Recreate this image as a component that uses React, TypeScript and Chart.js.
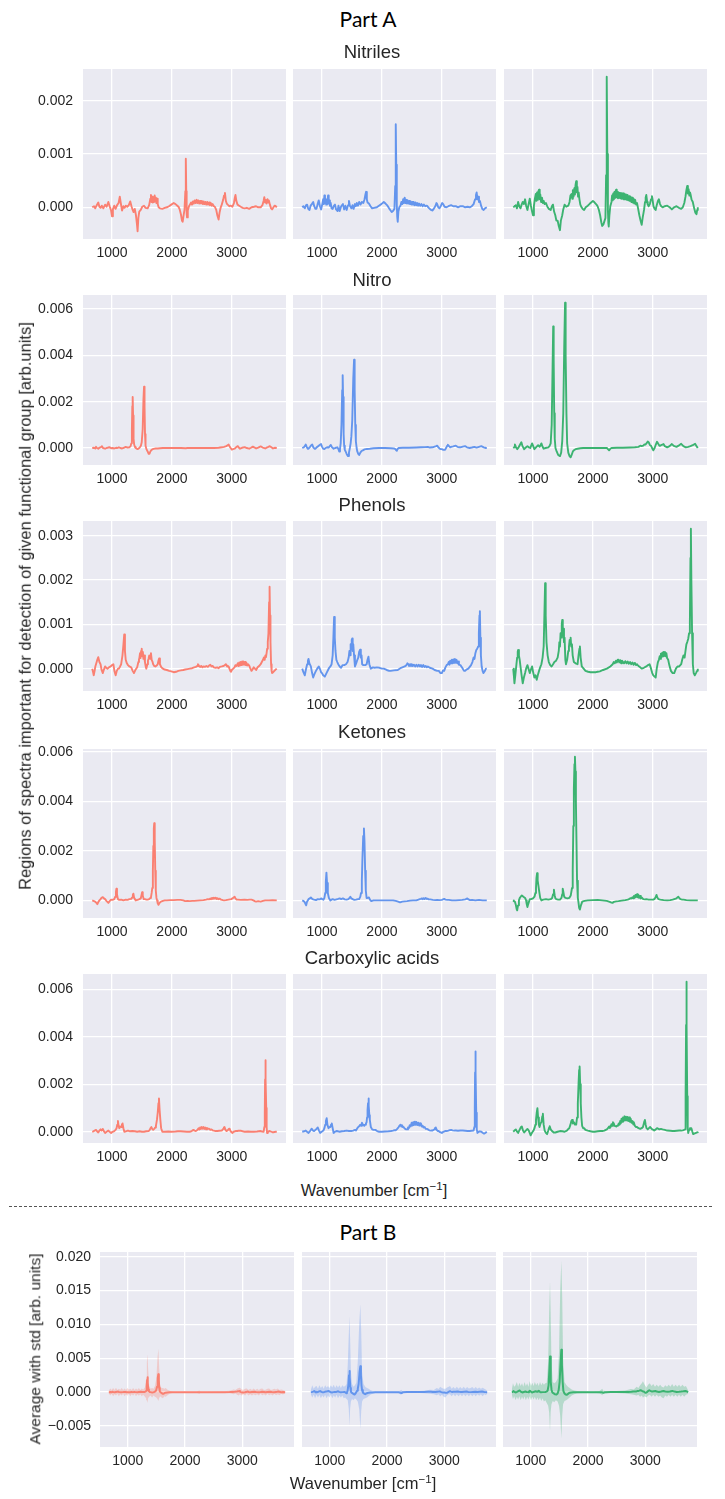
import { useEffect, useRef } from "react";
import { Chart, registerables } from "chart.js";

Chart.register(...registerables);

type Point = [number, number];
type BandPoint = [number, number, number];

// Intensities below are written in units of 1e-4 arb. units.
const UNIT = 1e-4;

const wavenumberTicks = [1000, 2000, 3000];
const nitrilesTicks = [0, 0.001, 0.002];
const nitroTicks = [0, 0.002, 0.004, 0.006];
const phenolsTicks = [0, 0.001, 0.002, 0.003];
const ketonesTicks = [0, 0.002, 0.004, 0.006];
const carboxylicTicks = [0, 0.002, 0.004, 0.006];
const averageTicks = [-0.005, 0, 0.005, 0.01, 0.015, 0.02];

const groupTitles = ["Nitriles", "Nitro", "Phenols", "Ketones", "Carboxylic acids"];

// ---------- Nitriles ----------
const nitrilesSalmon: Point[] = [[670,0],[700,0.2],[720,-0.2],[745,0.4],[771,0.9],[790,0.1],[810,-0.1],[830,0.3],[855,-0.2],[885,0.5],[910,0.1],[939,1.0],[960,0.2],[985,-0.6],[1000,-1.7],[1015,-0.4],[1038,0.3],[1060,-0.3],[1085,0.4],[1110,0.8],[1130,2.0],[1145,0.9],[1168,-0.6],[1190,0.2],[1210,-0.1],[1230,0.3],[1255,0.1],[1280,0.4],[1305,1.1],[1325,0.2],[1345,-0.5],[1360,-0.9],[1380,-0.3],[1400,-1.5],[1415,-3.0],[1427,-4.5],[1440,-2.0],[1455,-0.8],[1480,-0.5],[1505,0.1],[1534,0.3],[1560,-0.1],[1595,-0.2],[1620,0.4],[1640,1.6],[1650,2.3],[1660,1.0],[1670,2.0],[1680,0.9],[1690,1.9],[1700,1.0],[1712,2.2],[1722,1.1],[1732,1.8],[1742,0.8],[1752,1.6],[1763,0.6],[1778,0.0],[1800,-0.2],[1840,-0.3],[1880,-0.1],[1916,0.0],[1950,0.2],[1990,0.5],[2030,0.8],[2060,0.6],[2090,0.3],[2110,0.1],[2130,-0.4],[2150,-1.3],[2168,-2.5],[2180,-2.7],[2195,-1.5],[2210,-0.5],[2224,3.0],[2232,9.1],[2239,3.0],[2246,-1.2],[2252,-1.9],[2265,-0.6],[2285,0.2],[2300,0.5],[2320,0.9],[2335,0.5],[2350,1.1],[2365,0.7],[2380,1.3],[2395,0.8],[2412,1.4],[2425,0.8],[2440,1.3],[2455,0.7],[2470,1.2],[2485,0.7],[2500,1.2],[2515,0.6],[2530,1.1],[2545,0.6],[2560,1.0],[2575,0.5],[2590,1.0],[2605,0.5],[2620,0.9],[2635,0.4],[2650,0.8],[2665,0.3],[2680,0.6],[2700,0.2],[2717,0.1],[2740,-0.5],[2760,-1.6],[2779,-2.3],[2795,-1.0],[2815,0.0],[2832,0.5],[2855,1.4],[2870,2.2],[2885,2.7],[2900,1.2],[2915,0.7],[2931,0.5],[2960,0.2],[2985,0.3],[3010,0.1],[3035,0.8],[3050,1.8],[3061,2.3],[3075,1.2],[3095,0.5],[3122,0.3],[3150,0.1],[3180,-0.1],[3214,-0.2],[3250,-0.1],[3290,-0.3],[3330,0.0],[3370,0.1],[3405,0.2],[3440,0.0],[3481,0.0],[3510,0.4],[3530,1.2],[3542,1.9],[3555,0.9],[3568,1.4],[3580,0.7],[3595,1.5],[3608,0.9],[3618,1.3],[3635,0.5],[3655,-0.2],[3672,-0.4],[3695,0.0],[3715,0.3],[3733,0.2],[3750,0.0]];
const nitrilesBlue: Point[] = [[670,0],[690,0.2],[713,-0.2],[735,0.4],[752,0.5],[770,-0.3],[791,-0.5],[810,0.3],[830,0.6],[853,1.0],[870,0.2],[890,-0.3],[907,-0.3],[925,0.5],[946,1.3],[965,0.2],[985,-0.4],[1005,0.6],[1020,1.5],[1030,0.6],[1040,2.2],[1050,0.8],[1060,1.6],[1070,0.5],[1080,1.4],[1090,0.6],[1101,2.2],[1112,0.7],[1122,1.3],[1132,0.3],[1145,0.8],[1160,-0.2],[1178,-0.3],[1195,0.2],[1217,0.5],[1235,-0.4],[1260,-0.7],[1275,0.3],[1295,-0.7],[1320,0.2],[1349,0.6],[1370,-0.4],[1390,0.3],[1411,-0.5],[1435,0.4],[1450,1.2],[1465,0.3],[1490,-0.2],[1510,0.4],[1527,-0.3],[1550,0.6],[1565,0.2],[1581,0.8],[1600,0.3],[1620,1.0],[1643,0.5],[1665,1.0],[1690,0.8],[1710,1.5],[1725,2.4],[1736,2.9],[1748,1.5],[1760,0.9],[1783,0.7],[1810,0.2],[1837,-0.2],[1870,-0.1],[1915,0.0],[1950,0.3],[1990,0.6],[2031,1.0],[2060,0.7],[2093,0.3],[2120,-0.2],[2145,-0.6],[2163,-0.9],[2185,-0.7],[2209,-0.3],[2222,4.0],[2229,12.0],[2233,15.6],[2239,8.0],[2248,0.5],[2256,-1.8],[2264,-2.7],[2275,-0.8],[2290,0.0],[2310,0.3],[2325,1.0],[2340,0.6],[2355,1.5],[2368,0.8],[2380,1.8],[2393,0.8],[2405,1.4],[2418,0.7],[2430,1.3],[2443,0.7],[2455,1.2],[2468,0.6],[2480,1.1],[2493,0.5],[2505,1.0],[2518,0.5],[2530,1.0],[2545,0.4],[2560,0.9],[2575,0.4],[2590,0.8],[2605,0.3],[2620,0.7],[2640,0.3],[2660,0.6],[2680,0.2],[2700,0.5],[2725,0.2],[2750,0.3],[2767,0.1],[2790,-0.2],[2820,-0.5],[2845,-0.6],[2870,-0.2],[2895,0.3],[2910,0.8],[2922,0.6],[2940,0.0],[2960,-0.2],[2985,0.3],[3005,0.8],[3023,0.6],[3045,0.1],[3078,0.0],[3110,0.2],[3155,0.4],[3190,0.2],[3233,0.2],[3270,0.0],[3310,0.2],[3349,0.2],[3390,0.0],[3430,0.1],[3465,0.0],[3500,0.2],[3530,0.6],[3555,1.5],[3570,2.3],[3581,2.8],[3595,1.5],[3608,2.0],[3620,1.0],[3636,1.2],[3655,0.3],[3675,-0.3],[3698,-0.5],[3720,-0.2],[3750,0.0]];
const nitrilesGreen: Point[] = [[670,0],[685,0.1],[700,0.3],[713,0.4],[732,-0.2],[752,1.0],[770,0.2],[791,-0.2],[810,0.5],[829,1.0],[848,0.6],[868,1.5],[885,0.3],[907,-0.5],[925,0.5],[946,1.6],[965,0.3],[985,-0.8],[1000,-1.5],[1015,0.2],[1030,1.5],[1047,2.5],[1058,1.2],[1068,2.8],[1080,1.4],[1090,3.0],[1101,3.3],[1112,1.5],[1122,2.4],[1135,1.0],[1150,1.8],[1165,0.8],[1178,1.2],[1195,0.6],[1217,0.8],[1240,0.1],[1265,-0.3],[1295,-0.5],[1315,0.2],[1333,0.5],[1352,-0.8],[1372,-1.5],[1390,-2.5],[1411,-2.5],[1430,-3.5],[1450,-4.3],[1465,-2.5],[1488,-1.5],[1505,-0.4],[1527,0.5],[1555,0.1],[1589,0.3],[1610,1.0],[1625,2.2],[1643,2.5],[1655,1.6],[1665,3.2],[1677,2.0],[1690,3.6],[1700,2.4],[1710,4.2],[1721,4.9],[1732,2.8],[1742,3.8],[1752,2.0],[1762,2.8],[1775,1.5],[1790,0.5],[1810,0.0],[1830,-0.3],[1853,-0.5],[1880,0.0],[1915,0.3],[1950,0.7],[1980,1.0],[2000,1.2],[2020,1.0],[2036,0.8],[2060,0.5],[2078,0.2],[2100,-0.5],[2120,-1.5],[2140,-2.8],[2155,-3.5],[2175,-3.2],[2195,-2.5],[2209,-2.0],[2220,6.0],[2228,18.0],[2233,24.5],[2240,10.0],[2250,-0.5],[2258,-3.0],[2264,-3.6],[2275,-1.5],[2290,0.2],[2310,1.0],[2320,2.2],[2330,1.3],[2340,2.6],[2350,1.5],[2360,2.9],[2370,1.8],[2380,3.1],[2388,3.3],[2398,1.9],[2408,2.9],[2418,1.7],[2428,2.8],[2438,1.8],[2448,2.7],[2458,1.7],[2468,2.7],[2478,1.6],[2488,2.6],[2498,1.6],[2508,2.6],[2518,1.5],[2528,2.5],[2540,1.5],[2552,2.4],[2565,1.4],[2578,2.3],[2590,1.3],[2603,2.1],[2615,1.2],[2628,2.0],[2640,1.0],[2653,1.8],[2665,0.9],[2678,1.6],[2690,0.7],[2705,1.4],[2720,0.5],[2736,0.8],[2755,-0.3],[2775,-1.5],[2795,-2.5],[2814,-3.3],[2830,-2.0],[2853,-0.5],[2870,1.0],[2880,1.8],[2891,2.3],[2905,1.0],[2915,0.5],[2930,0.2],[2950,0.6],[2970,1.5],[2985,2.1],[2995,1.5],[3010,0.2],[3030,-0.3],[3047,-0.5],[3065,0.4],[3085,1.2],[3101,1.5],[3120,0.6],[3140,0.2],[3163,0.0],[3200,0.2],[3240,0.3],[3280,0.0],[3318,-0.4],[3355,0.0],[3395,0.2],[3435,-0.1],[3473,-0.3],[3500,0.0],[3525,0.8],[3545,2.0],[3560,3.2],[3574,4.0],[3585,2.6],[3597,3.4],[3610,2.2],[3620,2.8],[3628,2.5],[3645,1.5],[3667,1.0],[3690,-0.2],[3710,-1.0],[3729,-1.3],[3740,-0.5],[3750,0.0]];

// ---------- Nitro ----------
const nitroSalmon: Point[] = [[670,0],[700,0.1],[720,-0.2],[733,0.5],[750,0.0],[771,-0.3],[795,0.2],[815,0.4],[832,0.8],[850,0.0],[885,-0.3],[910,0.0],[935,0.2],[962,0.3],[985,-0.1],[1010,0.0],[1038,-0.2],[1070,0.1],[1090,0.0],[1115,0.3],[1140,0.0],[1168,-0.2],[1195,0.1],[1229,0.5],[1260,0.2],[1290,0.3],[1310,0.8],[1322,2.0],[1332,8.0],[1339,18.0],[1345,22.0],[1352,14.0],[1360,4.0],[1370,1.5],[1385,0.3],[1397,0.0],[1412,-0.3],[1427,-0.5],[1445,-0.2],[1465,0.3],[1482,1.0],[1496,2.5],[1512,8.0],[1525,21.0],[1535,26.5],[1543,18.0],[1551,6.0],[1560,1.0],[1575,-0.5],[1595,-1.5],[1612,-2.5],[1626,-2.5],[1640,-1.5],[1660,-0.8],[1690,-0.4],[1730,-0.2],[1763,-0.2],[1800,-0.1],[1850,0.0],[1950,0.0],[2050,0.0],[2150,0.0],[2230,-0.1],[2260,0.0],[2400,0.0],[2550,0.0],[2700,0.0],[2780,0.1],[2832,0.3],[2870,0.5],[2908,0.8],[2930,1.2],[2946,1.5],[2960,0.8],[2980,0.0],[3000,-0.7],[3020,-0.5],[3046,-0.3],[3070,0.3],[3099,0.8],[3115,0.2],[3137,-0.3],[3170,0.1],[3214,0.4],[3250,0.0],[3290,-0.3],[3320,0.1],[3351,0.6],[3380,0.2],[3405,-0.2],[3440,0.2],[3481,0.7],[3515,0.2],[3557,-0.2],[3590,0.3],[3610,0.5],[3634,0.8],[3660,0.3],[3687,-0.2],[3715,0.1],[3750,0.0]];
const nitroBlue: Point[] = [[670,0],[695,0.3],[713,0.8],[729,1.5],[745,0.5],[760,-0.3],[775,-0.3],[800,0.5],[820,1.2],[837,1.5],[855,0.3],[875,-0.3],[891,-0.3],[915,0.4],[940,0.8],[960,1.3],[984,1.7],[1000,0.6],[1020,-0.3],[1039,-0.5],[1060,0.0],[1085,0.3],[1110,0.2],[1130,0.8],[1147,1.3],[1165,0.4],[1194,-0.3],[1220,0.0],[1256,0.3],[1275,-0.5],[1287,-1.5],[1300,-0.5],[1312,2.0],[1325,10.0],[1337,25.0],[1345,31.4],[1352,22.0],[1361,6.0],[1370,1.0],[1380,-0.8],[1395,-1.5],[1415,-2.8],[1434,-3.5],[1450,-2.0],[1465,0.0],[1478,2.0],[1490,5.0],[1505,12.0],[1522,30.0],[1535,38.1],[1545,25.0],[1555,10.0],[1565,3.0],[1578,0.0],[1589,-1.5],[1605,-2.5],[1620,-3.0],[1640,-2.0],[1660,-1.3],[1682,-1.0],[1710,-0.6],[1750,-0.4],[1798,-0.3],[1860,-0.1],[1953,0.0],[2050,0.0],[2150,-0.1],[2200,-0.2],[2225,-0.5],[2240,-1.0],[2248,-1.2],[2262,-0.4],[2279,0.0],[2350,0.1],[2450,0.1],[2574,0.2],[2650,0.3],[2720,0.4],[2767,0.5],[2800,0.2],[2845,0.3],[2880,0.6],[2905,0.8],[2922,1.0],[2940,0.4],[2960,-0.2],[2980,-0.5],[3000,-0.5],[3025,-0.8],[3054,-0.8],[3075,0.2],[3090,1.0],[3101,1.4],[3120,0.8],[3140,0.3],[3155,0.5],[3190,0.7],[3233,1.0],[3260,0.5],[3290,0.3],[3310,0.3],[3350,0.6],[3388,0.8],[3420,0.3],[3465,0.0],[3500,0.2],[3543,0.5],[3580,0.2],[3620,0.5],[3659,0.8],[3700,0.3],[3736,0.0],[3750,0.0]];
const nitroGreen: Point[] = [[670,0],[685,0.3],[698,1.5],[715,0.5],[736,-0.5],[760,0.3],[785,1.5],[806,2.5],[825,0.8],[853,-0.5],[880,0.2],[907,0.8],[930,0.3],[955,0.0],[970,1.0],[985,2.0],[1000,1.0],[1023,-0.5],[1050,0.3],[1085,1.2],[1110,0.5],[1125,1.2],[1140,2.0],[1160,0.5],[1178,-0.3],[1210,0.0],[1256,0.3],[1275,0.8],[1295,2.0],[1312,10.0],[1327,35.0],[1337,52.5],[1345,38.0],[1354,15.0],[1363,4.0],[1375,0.0],[1395,-1.5],[1420,-3.0],[1450,-3.5],[1470,-2.0],[1488,3.0],[1505,15.0],[1522,45.0],[1535,62.7],[1545,40.0],[1558,15.0],[1570,2.0],[1589,-2.0],[1610,-3.5],[1628,-4.0],[1645,-3.0],[1665,-1.5],[1682,-1.0],[1710,-0.5],[1744,-0.3],[1790,-0.1],[1837,0.0],[1950,0.0],[2050,0.0],[2150,0.0],[2200,0.0],[2233,0.0],[2255,-0.6],[2270,-1.0],[2290,-0.3],[2310,0.0],[2400,0.1],[2500,0.1],[2620,0.2],[2700,0.3],[2760,0.5],[2790,1.0],[2814,0.8],[2840,1.0],[2860,1.5],[2876,1.5],[2900,2.2],[2915,2.8],[2930,2.5],[2950,1.3],[2969,1.0],[2990,-0.2],[3008,-1.0],[3030,0.0],[3050,1.5],[3070,2.7],[3090,1.8],[3110,1.0],[3124,1.0],[3150,1.4],[3178,1.7],[3200,0.8],[3240,0.3],[3280,0.8],[3318,1.7],[3350,0.9],[3395,0.5],[3430,1.0],[3473,1.8],[3510,0.8],[3550,0.3],[3590,0.5],[3628,0.8],[3665,1.2],[3705,1.8],[3730,0.8],[3750,0.0]];

// ---------- Phenols ----------
const phenolsSalmon: Point[] = [[670,0],[685,-0.8],[695,-1.5],[710,-0.5],[722,0.5],[733,1.0],[750,1.8],[771,2.6],[790,1.5],[809,1.0],[825,-0.2],[847,-1.0],[865,-0.2],[885,0.5],[905,0.2],[924,0.0],[950,0.3],[977,0.5],[1000,0.8],[1023,1.0],[1040,-0.5],[1061,-1.5],[1080,-0.5],[1100,0.0],[1115,0.0],[1135,0.5],[1153,1.0],[1175,3.0],[1191,5.5],[1204,7.7],[1216,4.0],[1229,2.0],[1248,1.2],[1267,0.8],[1290,0.5],[1321,0.3],[1345,-0.5],[1366,-1.0],[1390,-0.3],[1420,0.3],[1440,1.5],[1450,2.0],[1458,2.5],[1468,3.5],[1476,2.4],[1486,4.0],[1496,4.5],[1505,2.8],[1515,3.8],[1525,2.2],[1535,3.0],[1550,1.5],[1562,0.5],[1573,0.0],[1590,1.0],[1600,1.8],[1611,2.3],[1622,3.0],[1635,2.2],[1650,3.5],[1662,2.0],[1675,1.6],[1687,1.0],[1705,0.6],[1725,0.5],[1745,0.7],[1763,1.0],[1775,1.8],[1786,2.3],[1800,1.0],[1824,0.3],[1850,0.0],[1878,-0.2],[1915,-0.3],[1954,-0.5],[1990,-0.6],[2031,-0.8],[2070,-0.7],[2107,-0.5],[2150,-0.4],[2190,-0.3],[2221,-0.2],[2260,-0.1],[2300,0.0],[2336,0.1],[2370,0.3],[2400,0.4],[2420,0.6],[2435,1.0],[2450,0.7],[2470,0.4],[2490,0.6],[2510,0.3],[2527,0.5],[2550,0.4],[2575,0.6],[2600,0.4],[2620,0.7],[2641,0.9],[2660,0.5],[2680,0.6],[2700,0.3],[2730,0.2],[2756,0.3],[2780,0.1],[2800,0.4],[2832,0.5],[2860,0.6],[2885,0.8],[2900,1.0],[2908,0.9],[2920,0.5],[2935,0.6],[2946,0.5],[2960,0.0],[2975,-0.5],[2985,-0.7],[3000,-0.3],[3023,0.0],[3045,0.3],[3060,0.8],[3080,0.6],[3099,1.2],[3112,0.6],[3124,1.4],[3136,0.7],[3148,1.5],[3160,0.8],[3172,1.6],[3184,0.9],[3196,1.6],[3208,0.9],[3220,1.5],[3232,0.8],[3244,1.3],[3256,0.7],[3270,1.0],[3290,0.7],[3305,0.2],[3328,-0.5],[3345,-0.2],[3366,0.3],[3385,0.0],[3405,-0.3],[3430,0.3],[3455,0.6],[3481,1.0],[3500,1.5],[3520,2.0],[3534,2.5],[3548,2.0],[3560,3.0],[3570,2.6],[3580,3.5],[3590,4.5],[3600,6.0],[3611,8.0],[3622,15.0],[3630,18.5],[3637,12.0],[3645,6.0],[3655,1.0],[3664,-0.5],[3672,-1.0],[3690,-0.8],[3710,-0.5],[3730,-0.2],[3750,0.0]];
const phenolsBlue: Point[] = [[670,0],[690,-0.8],[713,-1.5],[730,-0.3],[752,1.0],[765,1.8],[775,2.2],[790,1.2],[814,0.5],[835,-1.0],[853,-2.0],[875,-1.2],[899,-0.5],[920,0.0],[946,0.5],[970,-0.2],[985,-0.8],[1000,-1.0],[1020,-1.5],[1047,-1.8],[1075,-1.0],[1101,-0.3],[1120,0.2],[1140,0.5],[1160,1.0],[1178,3.0],[1190,7.0],[1202,11.7],[1213,7.0],[1225,4.0],[1240,2.0],[1255,1.5],[1271,1.0],[1295,0.5],[1318,0.2],[1345,0.8],[1372,0.8],[1400,1.0],[1426,1.5],[1445,2.5],[1458,4.0],[1468,3.0],[1478,5.5],[1488,4.5],[1496,6.5],[1504,6.8],[1512,4.0],[1522,5.5],[1535,3.0],[1550,0.5],[1570,1.2],[1590,2.0],[1605,2.5],[1620,3.8],[1636,4.3],[1648,2.5],[1660,3.0],[1670,1.0],[1690,0.8],[1721,0.8],[1745,1.0],[1760,2.0],[1775,2.7],[1790,1.0],[1814,0.0],[1850,0.3],[1880,0.2],[1915,0.3],[1960,0.2],[2000,0.0],[2031,0.0],[2080,-0.3],[2120,-0.5],[2147,-0.5],[2200,-0.4],[2264,-0.3],[2320,0.2],[2380,0.5],[2410,0.8],[2425,1.2],[2442,1.0],[2455,0.6],[2470,1.0],[2485,0.6],[2500,1.0],[2515,0.6],[2535,0.9],[2555,0.5],[2575,0.9],[2595,0.5],[2615,0.9],[2635,0.5],[2651,0.8],[2670,0.4],[2690,0.8],[2710,0.4],[2730,0.6],[2750,0.3],[2767,0.5],[2800,0.2],[2845,0.0],[2880,-0.3],[2922,-0.5],[2950,-0.5],[2975,-1.0],[3000,-1.0],[3020,-0.4],[3039,-0.5],[3060,0.3],[3080,0.8],[3101,1.0],[3115,1.5],[3128,0.9],[3140,1.8],[3155,1.2],[3168,2.0],[3180,1.2],[3193,2.1],[3205,1.3],[3218,2.2],[3233,1.4],[3245,2.0],[3258,1.2],[3270,1.6],[3285,0.9],[3310,0.8],[3340,0.2],[3370,-0.5],[3388,-0.5],[3410,-0.2],[3442,0.0],[3465,0.4],[3488,0.8],[3510,1.5],[3530,2.5],[3545,2.2],[3560,3.5],[3575,4.2],[3590,4.5],[3605,5.0],[3618,8.0],[3628,12.0],[3635,13.0],[3643,7.0],[3652,3.0],[3665,0.5],[3680,-0.5],[3695,-1.0],[3715,-0.6],[3736,0.0],[3750,0.0]];
const phenolsGreen: Point[] = [[670,0],[680,-1.5],[690,-3.3],[705,-1.5],[720,0.5],[735,2.5],[745,3.8],[752,4.2],[765,3.0],[778,2.0],[791,0.5],[810,-1.5],[829,-3.3],[848,-2.0],[868,-1.0],[885,0.0],[907,0.8],[925,0.0],[946,-1.0],[965,-0.2],[985,0.5],[1005,-1.0],[1023,-2.0],[1042,-1.5],[1062,-2.5],[1080,-1.5],[1101,-0.5],[1120,0.3],[1140,1.0],[1160,2.5],[1178,5.0],[1190,12.0],[1202,19.3],[1212,12.0],[1225,6.0],[1244,3.0],[1264,1.5],[1287,0.8],[1310,0.5],[1335,1.0],[1357,1.5],[1385,1.8],[1411,2.5],[1430,4.0],[1440,6.0],[1450,5.0],[1460,8.0],[1470,7.0],[1480,10.0],[1488,11.0],[1497,7.5],[1507,9.0],[1517,6.0],[1527,7.0],[1540,2.0],[1550,1.0],[1570,2.0],[1589,4.0],[1600,5.0],[1612,6.5],[1620,5.5],[1628,7.0],[1638,5.0],[1650,5.5],[1662,3.0],[1682,1.5],[1710,1.2],[1744,1.0],[1760,3.0],[1775,4.5],[1783,5.0],[1795,2.5],[1814,0.5],[1845,0.0],[1876,-0.5],[1920,-0.7],[1960,-0.8],[2000,-0.8],[2050,-0.8],[2080,-0.7],[2116,-0.6],[2170,-0.3],[2233,0.0],[2290,0.5],[2330,1.0],[2349,1.5],[2365,1.2],[2385,1.8],[2400,1.4],[2415,2.0],[2426,2.0],[2440,1.4],[2455,1.9],[2470,1.2],[2485,1.8],[2504,1.5],[2520,1.2],[2540,1.7],[2560,1.2],[2580,1.6],[2600,1.1],[2620,1.5],[2640,1.0],[2660,1.4],[2680,0.9],[2700,1.3],[2720,0.8],[2736,1.0],[2760,0.6],[2790,0.3],[2814,0.0],[2850,0.2],[2891,0.5],[2920,0.8],[2946,1.0],[2970,0.0],[2990,-1.0],[3008,-1.5],[3030,-1.8],[3047,-2.0],[3065,0.0],[3085,1.5],[3101,2.0],[3115,2.8],[3125,2.2],[3135,3.4],[3147,2.6],[3158,3.6],[3170,2.8],[3180,3.8],[3190,2.9],[3202,3.8],[3214,2.8],[3226,3.5],[3238,2.4],[3256,2.0],[3275,0.8],[3302,-0.5],[3330,-1.0],[3357,-1.0],[3385,0.0],[3411,0.5],[3440,0.5],[3473,1.0],[3490,2.0],[3512,3.0],[3530,2.5],[3545,4.0],[3560,5.5],[3574,6.0],[3590,6.7],[3605,8.0],[3618,10.0],[3628,25.0],[3635,31.6],[3643,20.0],[3655,8.0],[3668,1.0],[3682,-1.0],[3700,-1.5],[3720,-1.0],[3738,-0.5],[3750,0.0]];

// ---------- Ketones ----------
const ketonesSalmon: Point[] = [[670,0],[690,-0.2],[718,-0.5],[740,-1.0],[756,-1.5],[775,-0.5],[790,0.0],[809,0.5],[825,1.0],[847,1.3],[865,0.8],[885,0.5],[910,-0.3],[939,-1.0],[960,-0.3],[985,0.3],[1010,0.2],[1038,0.5],[1055,1.5],[1066,3.5],[1074,4.7],[1083,2.5],[1099,0.5],[1120,0.2],[1153,0.3],[1190,0.0],[1229,0.3],[1260,0.2],[1290,0.5],[1320,0.6],[1338,1.2],[1348,2.2],[1357,2.7],[1368,1.2],[1385,0.3],[1397,0.0],[1425,0.2],[1458,0.5],[1480,0.8],[1493,2.2],[1503,3.3],[1513,2.0],[1530,0.5],[1550,0.5],[1575,0.3],[1595,0.3],[1620,0.5],[1640,1.0],[1650,1.2],[1662,3.0],[1672,5.0],[1682,12.0],[1690,22.0],[1698,29.0],[1705,31.2],[1713,25.0],[1722,12.0],[1731,4.0],[1742,1.0],[1753,0.0],[1763,-1.2],[1776,-1.8],[1795,-1.0],[1817,-0.5],[1850,-0.2],[1880,0.0],[1916,0.0],[1970,0.1],[2030,0.1],[2090,0.2],[2145,0.2],[2190,0.0],[2221,-0.3],[2260,-0.2],[2300,-0.3],[2340,-0.2],[2374,-0.2],[2420,-0.1],[2470,0.0],[2527,0.1],[2570,0.3],[2600,0.5],[2620,0.4],[2641,0.8],[2655,0.5],[2670,1.0],[2685,0.6],[2700,1.1],[2717,0.7],[2730,1.1],[2745,0.6],[2760,0.9],[2775,0.5],[2794,0.7],[2820,0.3],[2850,0.1],[2870,0.0],[2900,0.1],[2946,0.3],[2990,0.5],[3010,0.8],[3030,1.2],[3046,1.5],[3060,0.8],[3080,0.3],[3099,0.3],[3150,0.2],[3214,0.3],[3260,0.2],[3300,0.3],[3328,0.3],[3360,0.0],[3390,-0.4],[3405,-0.5],[3440,-0.3],[3481,-0.5],[3520,-0.2],[3557,0.0],[3620,0.0],[3680,0.1],[3750,0.0]];
const ketonesBlue: Point[] = [[670,0],[695,-0.3],[713,-0.8],[725,-1.5],[736,-2.0],[750,-0.5],[775,0.5],[795,0.8],[814,1.2],[840,0.5],[868,0.3],[900,0.1],[930,0.5],[960,0.4],[984,0.8],[1005,0.5],[1023,0.3],[1040,1.0],[1054,3.0],[1064,7.5],[1074,11.2],[1084,7.0],[1097,3.0],[1115,1.0],[1140,0.0],[1160,0.3],[1178,0.5],[1210,0.2],[1240,0.4],[1270,0.6],[1295,0.8],[1320,0.5],[1349,0.8],[1380,0.4],[1411,0.3],[1440,0.5],[1460,1.0],[1473,1.5],[1490,0.8],[1512,0.5],[1540,0.2],[1566,0.3],[1600,0.5],[1620,0.5],[1640,1.5],[1651,3.0],[1665,8.0],[1675,17.0],[1688,26.0],[1700,29.0],[1709,24.0],[1720,12.0],[1731,4.0],[1744,1.0],[1760,1.0],[1783,1.2],[1800,0.3],[1822,-0.3],[1860,0.0],[1953,0.0],[2050,0.0],[2120,0.0],[2186,0.0],[2230,-0.2],[2270,-0.5],[2302,-0.8],[2340,-0.5],[2380,-0.4],[2419,-0.3],[2470,-0.1],[2520,0.0],[2574,0.0],[2610,0.3],[2630,0.5],[2650,0.6],[2667,0.8],[2680,0.5],[2695,0.9],[2710,0.6],[2729,1.0],[2745,0.6],[2760,0.7],[2780,0.4],[2806,0.4],[2850,0.2],[2890,0.1],[2922,0.2],[2960,0.1],[3000,0.2],[3020,0.4],[3039,0.6],[3060,0.3],[3090,0.2],[3116,0.2],[3170,0.0],[3233,0.0],[3290,0.1],[3340,0.2],[3390,0.4],[3410,0.6],[3426,0.8],[3445,0.4],[3470,0.1],[3504,0.2],[3560,0.0],[3620,0.2],[3680,0.0],[3736,0.0],[3750,0.0]];
const ketonesGreen: Point[] = [[670,0],[680,-0.3],[698,-0.5],[715,-2.0],[727,-3.5],[736,-4.0],[750,-2.0],[765,0.0],[780,1.0],[795,1.5],[814,2.0],[840,1.5],[868,1.0],[885,0.0],[895,-1.5],[907,-2.7],[920,-1.5],[946,0.5],[970,0.5],[1000,0.8],[1025,1.5],[1040,3.0],[1050,5.0],[1058,9.0],[1068,11.0],[1078,8.0],[1090,6.0],[1101,4.0],[1120,1.0],[1140,0.0],[1170,0.3],[1217,0.5],[1255,0.3],[1295,0.5],[1320,1.0],[1335,2.5],[1349,4.3],[1362,2.0],[1375,0.8],[1388,0.5],[1420,0.3],[1450,0.3],[1475,1.0],[1488,2.5],[1496,4.7],[1506,3.5],[1520,1.5],[1543,1.0],[1575,0.8],[1605,1.0],[1630,2.0],[1651,5.0],[1663,12.0],[1673,30.0],[1682,45.0],[1692,55.0],[1700,58.0],[1708,52.0],[1716,40.0],[1725,25.0],[1735,8.0],[1748,1.0],[1760,-1.0],[1770,-3.0],[1783,-3.7],[1800,-2.0],[1822,-0.5],[1860,-0.2],[1915,0.0],[2000,0.1],[2080,0.2],[2155,0.0],[2230,-0.2],[2280,-0.6],[2310,-0.9],[2326,-1.0],[2350,-0.6],[2390,-0.4],[2426,-0.3],[2480,-0.1],[2540,0.1],[2581,0.3],[2610,0.6],[2630,0.9],[2645,0.8],[2659,1.3],[2672,0.9],[2685,1.8],[2698,1.1],[2710,2.2],[2722,1.4],[2736,2.5],[2748,1.3],[2760,2.2],[2772,1.0],[2786,1.8],[2800,0.8],[2814,1.2],[2840,0.5],[2870,0.4],[2891,0.5],[2930,0.3],[2970,0.3],[3008,0.3],[3030,0.6],[3050,1.5],[3062,2.2],[3075,1.2],[3095,0.5],[3124,0.3],[3180,0.1],[3240,0.0],[3290,0.1],[3330,0.3],[3357,0.5],[3395,0.8],[3410,1.2],[3425,1.5],[3440,1.0],[3460,0.5],[3490,0.3],[3512,0.3],[3560,0.1],[3628,0.0],[3700,0.0],[3750,0.0]];

// ---------- Carboxylic acids ----------
const carboxylicSalmon: Point[] = [[670,0],[690,0.2],[710,0.5],[733,0.8],[750,0.2],[771,-0.3],[790,0.5],[809,1.0],[825,0.5],[847,1.2],[865,0.2],[885,-0.5],[910,0.0],[939,0.5],[960,0.0],[985,-0.5],[1010,0.0],[1038,0.3],[1060,0.8],[1076,1.5],[1088,3.0],[1099,4.5],[1110,2.5],[1122,1.5],[1138,2.2],[1153,2.0],[1165,3.0],[1176,3.5],[1190,1.5],[1206,0.0],[1230,0.2],[1267,0.5],[1300,0.2],[1340,0.3],[1382,0.2],[1420,0.0],[1460,0.2],[1500,0.0],[1534,0.0],[1570,0.2],[1611,0.3],[1630,0.8],[1645,1.6],[1657,2.0],[1670,1.2],[1687,0.8],[1705,1.2],[1720,1.8],[1733,2.5],[1750,5.0],[1763,8.0],[1775,12.0],[1784,14.0],[1795,9.0],[1807,5.0],[1820,1.5],[1840,0.0],[1880,0.0],[1940,0.1],[1992,0.0],[2060,0.1],[2100,0.2],[2145,0.2],[2200,0.1],[2250,0.0],[2298,0.0],[2330,0.3],[2359,0.8],[2380,0.5],[2400,0.3],[2412,0.5],[2430,0.9],[2445,1.5],[2458,1.0],[2470,1.8],[2483,1.2],[2497,2.0],[2510,1.3],[2527,2.0],[2540,1.2],[2555,1.8],[2570,1.0],[2585,1.6],[2603,1.2],[2620,1.3],[2640,0.8],[2660,1.0],[2679,0.6],[2700,0.5],[2730,0.3],[2756,0.3],[2790,0.4],[2832,0.5],[2855,1.2],[2867,1.8],[2878,2.0],[2890,1.0],[2908,0.3],[2930,0.6],[2950,1.2],[2962,1.3],[2980,0.2],[3000,-0.3],[3008,-0.5],[3030,0.0],[3061,0.3],[3090,0.3],[3110,0.4],[3137,0.5],[3170,0.3],[3214,0.0],[3270,0.1],[3320,0.0],[3366,0.0],[3420,0.1],[3450,0.2],[3481,0.3],[3505,0.1],[3530,0.0],[3543,2.0],[3550,8.0],[3555,22.0],[3560,30.1],[3566,22.0],[3574,10.0],[3581,2.0],[3588,-0.5],[3600,-0.2],[3615,0.2],[3634,0.3],[3660,0.0],[3687,-0.3],[3710,-0.1],[3733,0.0],[3750,0.0]];
const carboxylicBlue: Point[] = [[670,0],[700,0.2],[729,0.5],[750,0.0],[775,-0.5],[800,0.3],[829,1.3],[850,0.5],[868,0.3],[900,1.0],[930,1.8],[950,0.5],[969,-0.5],[995,0.0],[1023,0.5],[1040,1.5],[1054,3.0],[1065,4.5],[1078,5.7],[1090,3.0],[1109,1.5],[1125,2.0],[1140,2.0],[1152,3.0],[1163,3.5],[1178,1.5],[1194,-0.5],[1215,0.0],[1240,0.3],[1270,0.2],[1295,0.0],[1330,0.2],[1370,0.3],[1411,0.5],[1450,0.3],[1488,0.3],[1520,0.5],[1550,0.8],[1566,0.5],[1590,1.5],[1605,2.0],[1620,2.3],[1640,3.0],[1655,2.5],[1667,3.8],[1680,2.8],[1695,3.0],[1705,2.5],[1720,3.0],[1733,3.5],[1744,4.0],[1752,6.0],[1760,9.0],[1768,12.0],[1775,14.0],[1783,11.0],[1790,7.0],[1798,5.0],[1815,2.0],[1837,1.0],[1860,0.8],[1891,0.8],[1920,0.3],[1953,0.0],[2000,0.0],[2050,0.1],[2109,0.2],[2150,0.3],[2186,0.5],[2210,0.7],[2230,0.6],[2248,1.0],[2265,1.5],[2280,2.0],[2295,2.6],[2310,3.0],[2322,2.2],[2335,2.8],[2350,2.0],[2362,2.0],[2375,1.5],[2390,1.2],[2405,1.0],[2419,1.0],[2435,1.8],[2450,1.6],[2465,2.8],[2480,2.2],[2496,3.8],[2510,2.6],[2522,4.0],[2535,2.8],[2550,4.2],[2562,2.9],[2575,4.1],[2590,2.8],[2605,3.8],[2620,2.6],[2635,3.6],[2651,3.5],[2665,2.2],[2680,2.5],[2695,1.8],[2713,2.0],[2730,1.2],[2750,1.2],[2767,1.0],[2790,0.6],[2820,0.5],[2845,0.5],[2870,1.0],[2885,1.5],[2899,1.8],[2915,0.8],[2930,0.3],[2946,0.3],[2970,-0.2],[3000,-0.5],[3025,0.0],[3054,0.3],[3080,0.3],[3110,0.5],[3130,0.7],[3155,0.8],[3180,0.6],[3210,0.5],[3233,0.5],[3270,0.4],[3310,0.5],[3349,0.5],[3390,0.4],[3430,0.3],[3465,0.3],[3495,0.4],[3530,0.5],[3543,2.0],[3550,10.0],[3555,25.0],[3560,33.8],[3566,25.0],[3574,8.0],[3583,1.0],[3595,-0.5],[3615,0.0],[3635,0.2],[3660,0.0],[3680,-0.4],[3705,-0.8],[3730,-0.4],[3750,0.0]];
const carboxylicGreen: Point[] = [[670,0],[690,0.5],[713,1.0],[735,0.0],[752,-0.5],[780,1.0],[800,2.0],[814,2.2],[833,0.5],[853,-0.3],[880,0.5],[907,1.2],[930,0.5],[945,-0.5],[961,-1.5],[985,-0.3],[1008,0.5],[1025,1.5],[1040,3.0],[1050,5.0],[1062,8.0],[1074,9.9],[1085,6.0],[1098,3.0],[1109,2.0],[1125,3.5],[1140,4.0],[1155,6.5],[1165,7.6],[1178,3.0],[1195,0.5],[1215,-0.5],[1235,-1.0],[1255,0.5],[1270,1.8],[1279,2.3],[1295,1.0],[1318,0.3],[1345,-0.3],[1372,-0.3],[1410,0.0],[1450,0.3],[1490,0.2],[1527,0.0],[1565,0.5],[1590,1.2],[1605,1.5],[1625,3.0],[1640,4.5],[1651,5.0],[1665,3.5],[1682,4.0],[1700,3.0],[1712,3.5],[1721,3.0],[1735,6.0],[1748,12.0],[1760,20.0],[1770,26.0],[1778,27.5],[1787,20.0],[1797,12.0],[1808,6.0],[1820,2.5],[1837,1.5],[1853,1.5],[1875,0.8],[1915,0.5],[1960,0.2],[2000,0.0],[2031,0.0],[2080,0.2],[2120,0.3],[2155,0.3],[2190,0.5],[2215,0.8],[2233,1.0],[2255,1.6],[2270,2.2],[2283,1.6],[2295,2.0],[2310,3.2],[2323,2.5],[2335,4.0],[2349,3.5],[2360,2.5],[2375,2.4],[2390,2.2],[2403,2.5],[2418,2.6],[2430,3.5],[2445,3.0],[2455,4.5],[2465,3.5],[2478,5.5],[2490,4.2],[2502,6.0],[2515,4.6],[2527,6.5],[2540,4.8],[2552,6.3],[2565,4.8],[2578,6.2],[2590,4.5],[2605,6.0],[2618,4.2],[2630,5.5],[2645,3.8],[2660,4.5],[2675,3.0],[2682,4.0],[2700,2.5],[2720,2.0],[2736,2.0],[2760,1.5],[2790,1.2],[2814,1.5],[2835,2.0],[2850,3.5],[2860,4.5],[2868,5.0],[2880,3.0],[2895,1.5],[2915,1.0],[2935,1.5],[2955,2.0],[2969,2.0],[2990,1.0],[3010,0.8],[3023,0.5],[3050,1.0],[3070,1.5],[3085,1.5],[3110,1.0],[3135,1.2],[3163,1.0],[3200,0.8],[3240,0.5],[3290,0.4],[3330,0.3],[3357,0.3],[3400,0.4],[3440,0.5],[3473,0.5],[3500,0.6],[3520,0.8],[3538,1.0],[3547,15.0],[3555,45.0],[3560,63.2],[3566,45.0],[3574,15.0],[3582,2.0],[3590,-0.5],[3605,0.8],[3620,1.5],[3643,1.5],[3660,0.0],[3674,-1.0],[3690,-0.8],[3721,-0.5],[3740,-0.2],[3750,0.0]];

// ---------- Average with std (nitro group): [wavenumber, mean - std, mean + std] ----------
const stdBandSalmon: BandPoint[] = [[670,-2,2],[695,-5,5.5],[720,-2.5,3],[745,-6,6],[770,-3,3],[795,-5,6.5],[820,-2.5,3],[845,-6,5],[870,-3,3.5],[895,-5,6],[920,-2.5,3],[945,-6,5.5],[970,-3,3],[995,-5.5,6],[1020,-2.5,3.5],[1045,-6,5],[1070,-3,3],[1095,-5,6],[1120,-2.5,3],[1145,-6,5.5],[1170,-3,3.5],[1195,-5.5,6],[1220,-3,3],[1245,-6,5.5],[1270,-4,4],[1300,-7,7],[1322,-9,20],[1335,-12,45],[1345,-16,56],[1356,-9,35],[1375,-7,9],[1400,-5,5],[1425,-8,6],[1450,-5,5],[1475,-7,9],[1500,-8,20],[1520,-10,50],[1535,-13,64],[1548,-9,40],[1565,-6,10],[1590,-8,6],[1615,-9,6],[1640,-6,5],[1665,-7,6],[1690,-5,4],[1720,-3,2.5],[1760,-1.5,1.2],[1800,-0.8,0.7],[1900,-0.5,0.5],[2000,-0.5,0.5],[2100,-0.6,0.6],[2200,-0.6,0.6],[2240,-2,2],[2255,-2.5,2.5],[2270,-0.6,0.6],[2400,-0.6,0.6],[2550,-0.8,0.8],[2700,-1,1.2],[2800,-2,2.5],[2850,-3,4],[2880,-2,3],[2910,-4,5],[2940,-5,6],[2960,-3,6.5],[2990,-5,4],[3020,-3,3.5],[3050,-5,5],[3080,-2.5,5.5],[3110,-5,3],[3140,-3,5],[3170,-5,3],[3200,-3,5.5],[3230,-4.5,3],[3260,-3,5],[3290,-5,3],[3320,-2.5,5],[3350,-4.5,5.5],[3380,-3,3],[3410,-5,3.5],[3440,-2.5,5],[3470,-4.5,5.5],[3500,-3,3],[3530,-5,4],[3560,-2.5,5],[3590,-4.5,4],[3620,-3,5.5],[3650,-4.5,3],[3680,-2.5,4],[3710,-3.5,3],[3750,-1.5,1.5]];
const stdBandBlue: BandPoint[] = [[670,-3,3],[695,-8,10],[720,-4,5],[745,-9,8],[770,-4,9],[795,-8,5],[820,-4,10],[845,-9,6],[870,-5,9],[895,-8,5],[920,-4,10],[945,-9,7],[970,-5,9],[995,-8,6],[1020,-4,10],[1045,-9,7],[1070,-5,11],[1095,-8,6],[1120,-4,10],[1145,-9,7],[1170,-5,10],[1195,-8,6],[1220,-5,10],[1245,-9,8],[1270,-8,9],[1295,-10,12],[1315,-12,40],[1333,-25,85],[1345,-50,112],[1356,-25,80],[1370,-14,30],[1390,-10,12],[1415,-12,8],[1440,-9,10],[1465,-11,14],[1490,-14,45],[1515,-25,100],[1535,-54,130],[1550,-28,90],[1565,-14,30],[1590,-10,12],[1620,-9,8],[1650,-8,6],[1680,-6,5],[1710,-4,3],[1750,-2,1.5],[1800,-1,1],[1900,-0.8,0.8],[2000,-0.6,0.6],[2100,-0.8,0.8],[2200,-1,1],[2235,-3.5,2.5],[2250,-4,3.5],[2265,-1.5,1.5],[2350,-0.8,0.8],[2500,-1,1.2],[2650,-1.5,2],[2750,-2.5,3.5],[2820,-3,3],[2870,-4.5,6],[2900,-3,4.5],[2930,-6,8],[2960,-4,6],[2990,-7,5],[3020,-8,5],[3050,-4.5,7],[3080,-3,8],[3101,-3,9],[3130,-6,5],[3160,-3,7.5],[3190,-6,5],[3220,-3,8],[3250,-6,5],[3280,-3,7.5],[3310,-6,5],[3340,-3,8],[3370,-6,5],[3400,-3,7.5],[3430,-6,5.5],[3460,-3,6],[3490,-6,7.5],[3520,-3,5],[3550,-6,7.5],[3580,-3,5],[3610,-5.5,7],[3640,-3,5],[3670,-6,6.5],[3700,-3,5],[3730,-4.5,3.5],[3750,-1.5,1.5]];
const stdBandGreen: BandPoint[] = [[670,-4,4],[690,-10,13],[712,-6,8],[735,-12,10],[758,-7,15],[780,-11,8],[802,-6,14],[825,-12,9],[848,-7,13],[870,-11,8],[892,-6,15],[915,-12,9],[938,-7,13],[960,-11,8],[982,-6,16],[1005,-12,9],[1028,-7,14],[1050,-11,9],[1072,-7,15],[1095,-12,10],[1118,-8,14],[1140,-12,9],[1162,-8,15],[1185,-13,10],[1208,-9,14],[1230,-14,11],[1255,-12,13],[1280,-16,14],[1305,-20,45],[1322,-30,120],[1337,-57,164],[1348,-30,120],[1362,-18,45],[1385,-13,15],[1410,-15,13],[1440,-12,15],[1470,-14,20],[1495,-20,60],[1515,-35,150],[1535,-68,194],[1550,-35,140],[1565,-18,50],[1590,-13,15],[1620,-12,11],[1650,-10,8],[1680,-8,6],[1715,-5,4],[1760,-3,2.5],[1810,-1.5,1.5],[1900,-1.2,1.2],[2000,-1,1],[2100,-1,1],[2200,-1.5,1.5],[2235,-3.5,4],[2250,-4.5,5],[2265,-2,2],[2350,-1.2,1.2],[2500,-1.2,1.5],[2650,-2,2.5],[2750,-3,4.5],[2800,-4,4],[2850,-5,8],[2880,-4,6],[2910,-7,10],[2940,-5,13],[2960,-8,16],[2990,-6,11],[3020,-8,7],[3050,-5,11],[3080,-4,13],[3110,-7,9],[3140,-4,12],[3170,-7,8],[3200,-4,11],[3230,-7,8],[3260,-5,11],[3290,-8,8],[3320,-9,7],[3350,-5,10],[3380,-7,8],[3410,-4,11],[3440,-7,8],[3470,-4,12],[3500,-7,8],[3530,-4,11],[3560,-7,8],[3590,-4,11],[3620,-7,8],[3650,-4,11],[3680,-7,8],[3710,-4,9],[3735,-3,5],[3750,-1.5,1.5]];

// ---------- styling ----------
const SALMON = "#FA8072";
const CORNFLOWER = "#6495ED";
const SEAGREEN = "#3CB371";
const PANEL_BG = "#EAEAF2";
const TEXT = "#262626";
const SANS = '"Liberation Sans", Arial, Helvetica, sans-serif';
const TITLE_FONT = 'Lato, "Open Sans", sans-serif';

const PAD_TOP = 12;
const PAD_RIGHT = 4;
const X_AXIS_H = 30;

function paddedRange(values: number[]): [number, number] {
  const lo = Math.min(...values);
  const hi = Math.max(...values);
  const m = (hi - lo) * 0.05;
  return [lo - m, hi + m];
}

function formatIntensity(v: number): string {
  const s = Math.abs(v).toFixed(3);
  return v < -1e-12 ? "\u2212" + s : s;
}

function fade(hex: string, alpha: number): string {
  const n = parseInt(hex.slice(1), 16);
  return `rgba(${(n >> 16) & 255},${(n >> 8) & 255},${n & 255},${alpha})`;
}

const panelBackground = {
  id: "panelBackground",
  beforeDraw(chart: any) {
    const { ctx, chartArea: a } = chart;
    ctx.save();
    ctx.fillStyle = PANEL_BG;
    ctx.fillRect(a.left, a.top, a.right - a.left, a.bottom - a.top);
    ctx.restore();
  },
};

type LineSpec = { data: Point[]; color: string; width: number };

type PanelProps = {
  left: number;
  top: number;
  width: number;
  height: number;
  yAxisWidth: number;
  tickGap: number;
  xRange: [number, number];
  yRange: [number, number];
  yTicks: number[];
  lines: LineSpec[];
  band?: { data: BandPoint[]; color: string };
};

function SpectrumPanel(p: PanelProps) {
  const ref = useRef<HTMLCanvasElement>(null);
  const cw = p.yAxisWidth + p.width + PAD_RIGHT;
  const ch = PAD_TOP + p.height + X_AXIS_H;

  useEffect(() => {
    const canvas = ref.current;
    if (!canvas) return;
    const datasets: any[] = [];
    if (p.band) {
      datasets.push({
        data: p.band.data.map(([x, lo]) => ({ x, y: lo * UNIT })),
        borderWidth: 0,
        pointRadius: 0,
        fill: false,
      });
      datasets.push({
        data: p.band.data.map(([x, , hi]) => ({ x, y: hi * UNIT })),
        borderWidth: 0,
        pointRadius: 0,
        fill: "-1",
        backgroundColor: fade(p.band.color, 0.3),
      });
    }
    for (const l of p.lines) {
      datasets.push({
        data: l.data.map(([x, v]) => ({ x, y: v * UNIT })),
        borderColor: l.color,
        borderWidth: l.width,
        borderJoinStyle: "round",
        pointRadius: 0,
        fill: false,
      });
    }
    const tickFont = { family: SANS, size: 14 };
    const chart = new Chart(canvas, {
      type: "line",
      data: { datasets },
      options: {
        animation: false,
        responsive: false,
        devicePixelRatio: 1,
        layout: { padding: { top: PAD_TOP, right: PAD_RIGHT, left: 0, bottom: 0 } },
        plugins: { legend: { display: false }, tooltip: { enabled: false } },
        scales: {
          x: {
            type: "linear",
            min: p.xRange[0],
            max: p.xRange[1],
            afterBuildTicks: (s: any) => {
              s.ticks = wavenumberTicks.map((value) => ({ value }));
            },
            afterFit: (s: any) => {
              s.height = X_AXIS_H;
              s.paddingLeft = 0;
              s.paddingRight = 0;
            },
            grid: { color: "#FFFFFF", lineWidth: 1.3, drawTicks: false },
            border: { display: false },
            ticks: {
              font: tickFont,
              color: TEXT,
              padding: 6,
              maxRotation: 0,
              autoSkip: false,
              callback: (v: any) => String(v),
            },
          },
          y: {
            type: "linear",
            min: p.yRange[0],
            max: p.yRange[1],
            afterBuildTicks: (s: any) => {
              s.ticks = p.yTicks.map((value) => ({ value }));
            },
            afterFit: (s: any) => {
              s.width = p.yAxisWidth;
              s.paddingTop = 0;
              s.paddingBottom = 0;
            },
            grid: { color: "#FFFFFF", lineWidth: 1.3, drawTicks: false },
            border: { display: false },
            ticks: {
              display: p.yAxisWidth > 0,
              font: tickFont,
              color: TEXT,
              padding: p.tickGap,
              autoSkip: false,
              callback: (v: any) => formatIntensity(Number(v)),
            },
          },
        },
      } as any,
      plugins: [panelBackground],
    });
    return () => chart.destroy();
  }, []);

  return (
    <canvas
      ref={ref}
      width={cw}
      height={ch}
      style={{
        position: "absolute",
        left: p.left - p.yAxisWidth,
        top: p.top - PAD_TOP,
        width: cw,
        height: ch,
      }}
    />
  );
}

function Label(props: {
  x: number;
  y: number;
  size: number;
  family?: string;
  rotate?: boolean;
  color?: string;
  children: any;
}) {
  return (
    <div
      style={{
        position: "absolute",
        left: props.x,
        top: props.y,
        transform: `translate(-50%, -50%)${props.rotate ? " rotate(-90deg)" : ""}`,
        fontSize: props.size,
        fontFamily: props.family || SANS,
        color: props.color || TEXT,
        whiteSpace: "nowrap",
        lineHeight: 1,
      }}
    >
      {props.children}
    </div>
  );
}

function WavenumberLabel() {
  return (
    <span>
      Wavenumber [cm
      <span style={{ fontSize: "0.7em", position: "relative", top: "-0.55em" }}>
        {"\u22121"}
      </span>
      ]
    </span>
  );
}

const groupSeries: Point[][][] = [
  [nitrilesSalmon, nitrilesBlue, nitrilesGreen],
  [nitroSalmon, nitroBlue, nitroGreen],
  [phenolsSalmon, phenolsBlue, phenolsGreen],
  [ketonesSalmon, ketonesBlue, ketonesGreen],
  [carboxylicSalmon, carboxylicBlue, carboxylicGreen],
];
const groupTicks = [nitrilesTicks, nitroTicks, phenolsTicks, ketonesTicks, carboxylicTicks];
const colors = [SALMON, CORNFLOWER, SEAGREEN];
const stdBands = [stdBandSalmon, stdBandBlue, stdBandGreen];
const nitroMeans = [nitroSalmon, nitroBlue, nitroGreen];

// panel geometry (pixels)
const A_COL_LEFT = [83, 293, 504];
const A_COL_W = 203;
const A_ROW_TOP = [69, 295, 521, 749, 974];
const A_ROW_H = [170, 170, 170, 169, 169];
const A_TITLE_Y = [52, 280, 505, 732, 958];
const B_COL_LEFT = [100, 302, 503];
const B_COL_W = 194;
const B_TOP = 1252;
const B_H = 195;

export default function App() {
  const allWavenumbers = groupSeries.flat().flatMap((s) => s.map((pt) => pt[0]));
  const xRange = paddedRange(allWavenumbers);

  const bandValues = stdBands.flatMap((b) => b.flatMap(([, lo, hi]) => [lo * UNIT, hi * UNIT]));
  const meanValues = nitroMeans.flatMap((s) => s.map((pt) => pt[1] * UNIT));
  const bRange = paddedRange(bandValues.concat(meanValues));

  return (
    <div
      style={{
        position: "absolute",
        left: 0,
        top: 0,
        width: 725,
        height: 1499,
        background: "#FFFFFF",
        overflow: "hidden",
      }}
    >
      <Label x={368} y={18} size={21} family={TITLE_FONT} color="#000">
        Part A
      </Label>

      {groupSeries.map((series, r) => {
        const yRange = paddedRange(series.flatMap((s) => s.map((pt) => pt[1] * UNIT)));
        return series.map((data, c) => (
          <SpectrumPanel
            key={`a-${r}-${c}`}
            left={A_COL_LEFT[c]}
            top={A_ROW_TOP[r]}
            width={A_COL_W}
            height={A_ROW_H[r]}
            yAxisWidth={c === 0 ? 70 : 0}
            tickGap={10}
            xRange={xRange}
            yRange={yRange}
            yTicks={groupTicks[r]}
            lines={[{ data, color: colors[c], width: 1.9 }]}
          />
        ));
      })}

      {groupTitles.map((t, r) => (
        <Label key={t} x={372} y={A_TITLE_Y[r]} size={18.5}>
          {t}
        </Label>
      ))}

      <Label x={25} y={606} size={16.5} rotate>
        Regions of spectra important for detection of given functional group [arb.units]
      </Label>
      <Label x={374} y={1190} size={16.5}>
        <WavenumberLabel />
      </Label>

      <div
        style={{
          position: "absolute",
          left: 9,
          top: 1206,
          width: 705,
          height: 1.2,
          backgroundImage: "repeating-linear-gradient(to right, #555 0 3px, transparent 3px 5px)",
        }}
      />

      <Label x={368} y={1231} size={21} family={TITLE_FONT} color="#000">
        Part B
      </Label>

      {nitroMeans.map((mean, c) => (
        <SpectrumPanel
          key={`b-${c}`}
          left={B_COL_LEFT[c]}
          top={B_TOP}
          width={B_COL_W}
          height={B_H}
          yAxisWidth={c === 0 ? 70 : 0}
          tickGap={9}
          xRange={xRange}
          yRange={bRange}
          yTicks={averageTicks}
          band={{ data: stdBands[c], color: colors[c] }}
          lines={[{ data: mean, color: colors[c], width: 2 }]}
        />
      ))}

      <Label x={35} y={1349} size={15.5} rotate>
        Average with std [arb. units]
      </Label>
      <Label x={363} y={1483} size={16.5}>
        <WavenumberLabel />
      </Label>
    </div>
  );
}
